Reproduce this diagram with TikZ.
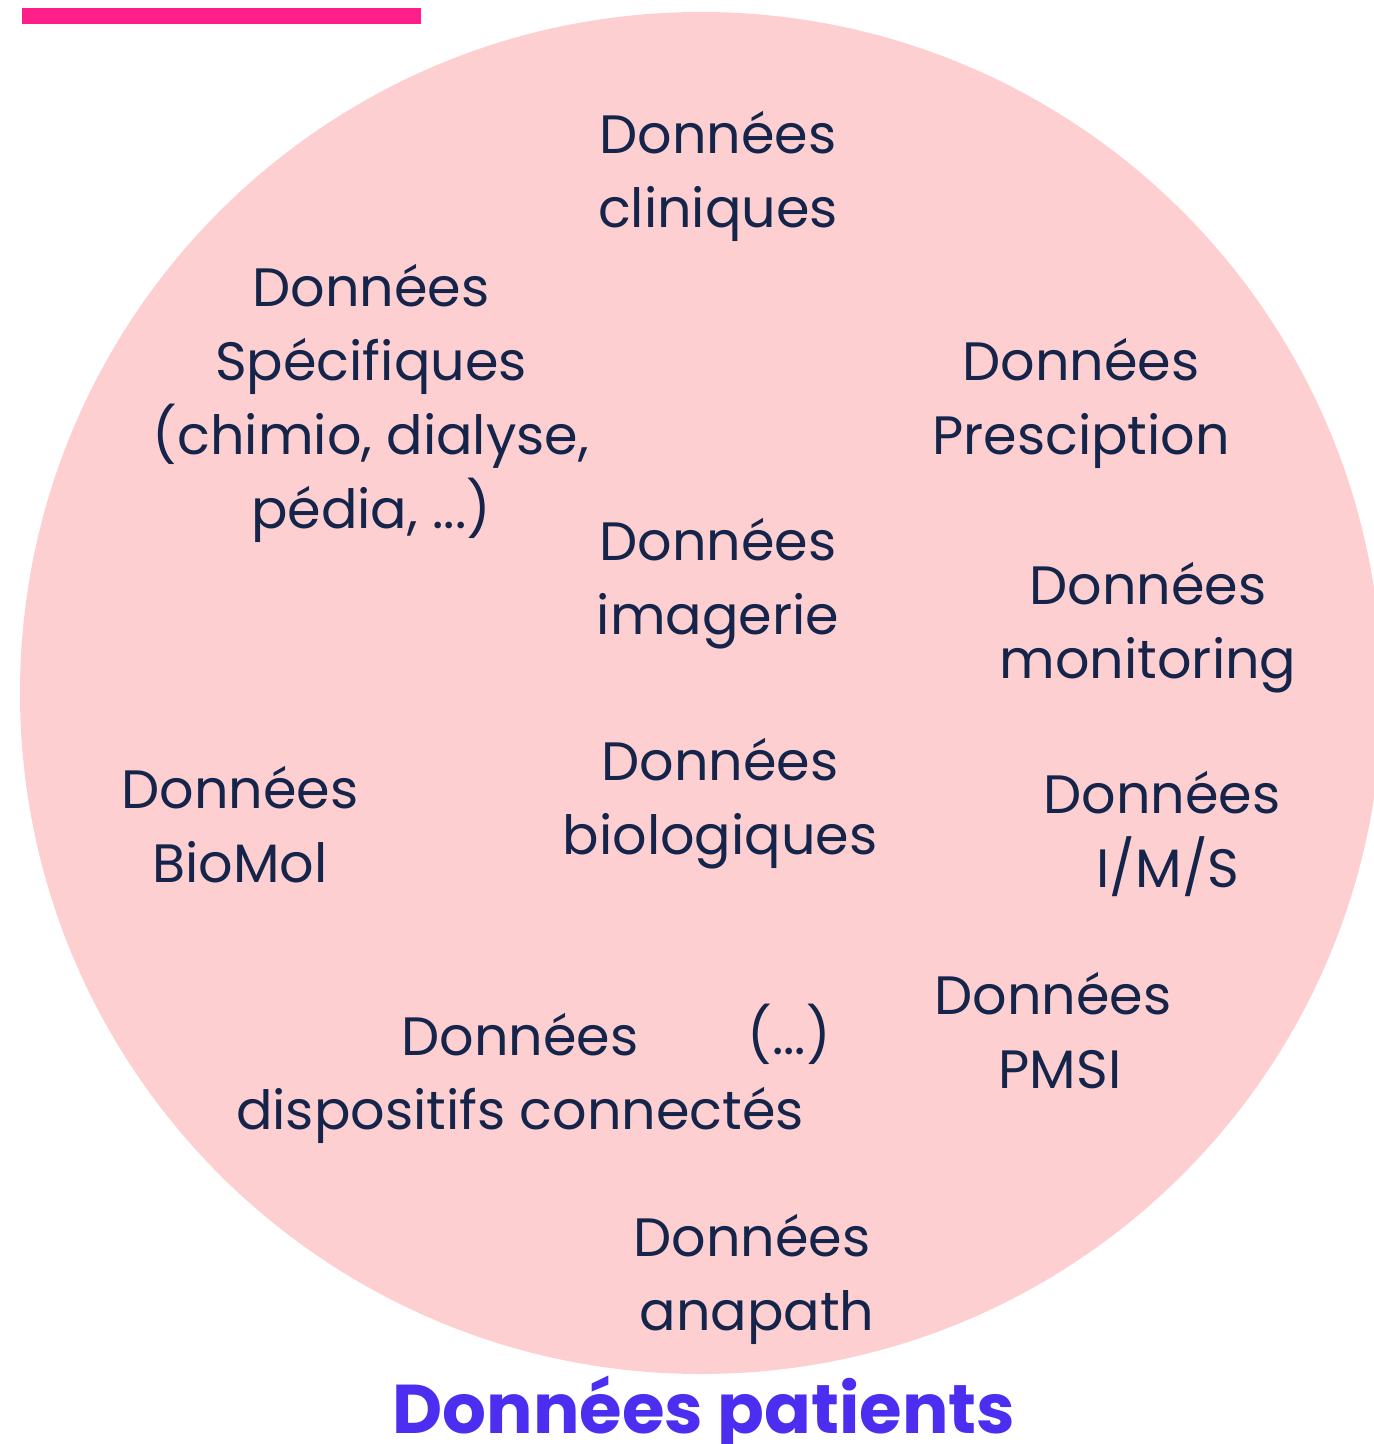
\documentclass[tikz,border=0pt]{standalone}
\usepackage{fontspec}
\setmainfont{Poppins}
\definecolor{rose}{HTML}{FDCFD0}
\definecolor{barre}{HTML}{FF1F8A}
\definecolor{encre}{HTML}{14244A}
\definecolor{titre}{HTML}{4B2EF0}

\begin{document}
\begin{tikzpicture}[x=0.5pt, y=-0.5pt,
  donnee/.style={text=encre, align=center, inner sep=0pt, font=\fontsize{27}{37}\selectfont}]
                      \useasboundingbox (0, 0) rectangle (1373, 1444);
                      \fill[rose] (701, 693) circle[radius=681];
                      \fill[barre] (22, 8) rectangle (421, 24);
                      \node[donnee] (clin) at (718, 176) {Données\\cliniques};
                      \node[donnee] (spec) at (371, 403) {Données\\Spécifiques\\(chimio, dialyse,\\pédia, ...)};
                      \node[donnee] (presc) at (1081, 403) {Données\\Presciption};
                      \node[donnee] (imag) at (718, 584) {Données\\imagerie};
                      \node[donnee] (monit) at (1148, 628) {Données\\monitoring};
                      \node[donnee] (biomol) at (240, 825) {Données\\BioMol};
                      \node[donnee] (bio) at (720, 804) {Données\\biologiques};
                      \node[donnee] (ims) at (1162, 834) {Données\\\hspace{6pt}I/M/S};
                      \node[donnee] (pmsi) at (1053, 1031) {Données\\\hspace{7pt}PMSI};
                      \node[donnee] (dispo) at (520, 1078) {Données\\dispositifs connectés};
                      \node[donnee] (etc) at (789, 1034) {(...)};
                      \node[donnee] (anap) at (752, 1279) {Données\\\hspace{5pt}anapath};
                      \node[text=titre, inner sep=0pt, font=\fontsize{34.5}{40}\selectfont\bfseries] (patients) at (704, 1414) {Données patients};
                  \end{tikzpicture}
\end{document}
